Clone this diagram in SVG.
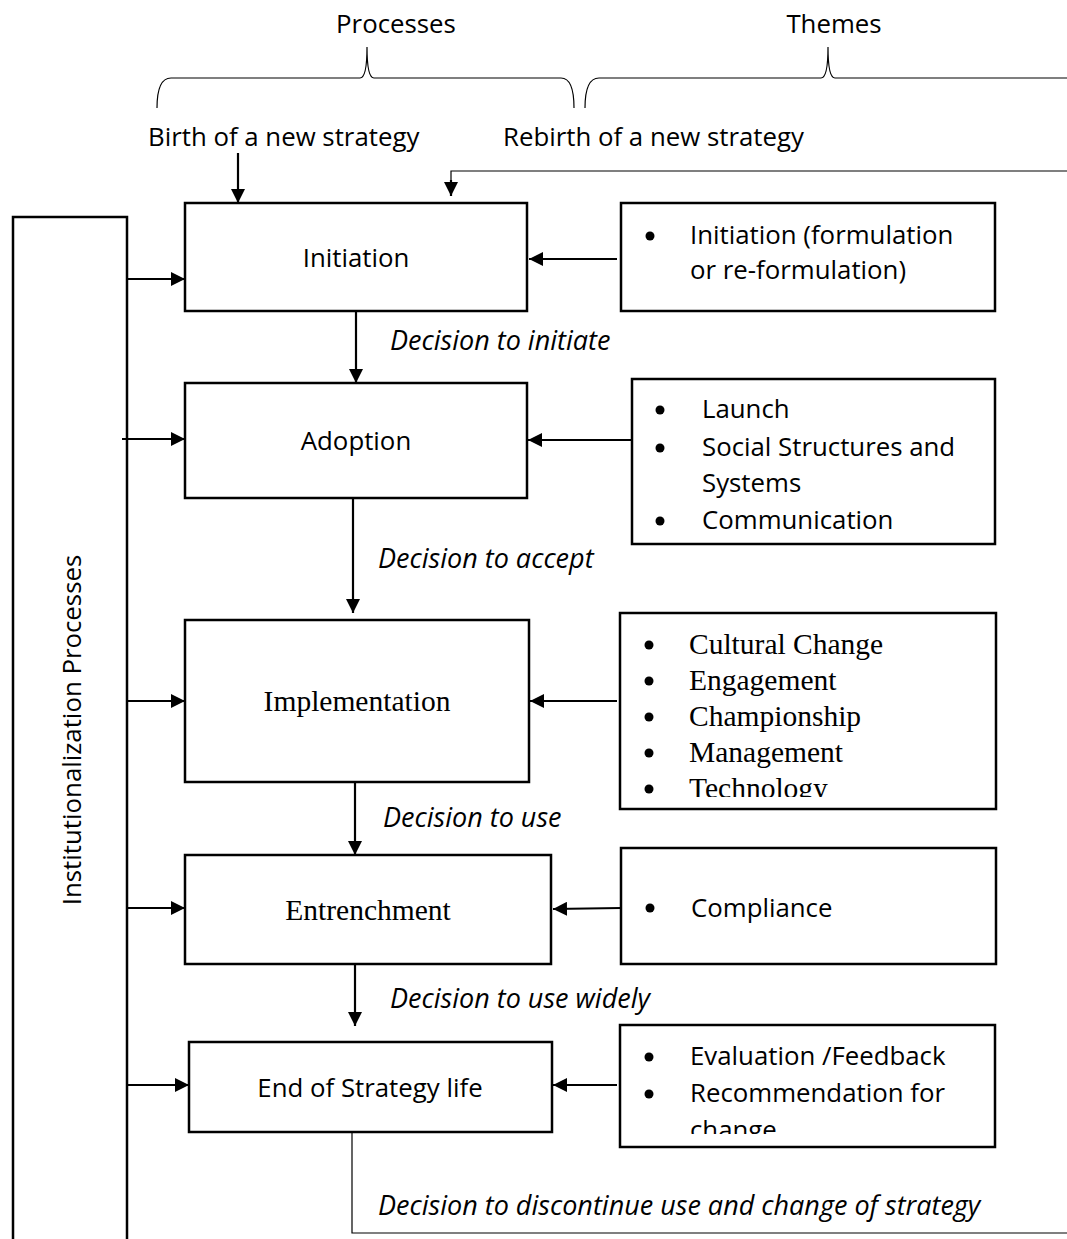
<svg xmlns="http://www.w3.org/2000/svg" width="1067" height="1239" viewBox="0 0 1067 1239">
  <defs>
    <marker id="arrow" viewBox="0 0 14 14" markerWidth="14" markerHeight="14" refX="14" refY="7" orient="auto" markerUnits="userSpaceOnUse">
      <path d="M0,0 L14,7 L0,14 z" fill="#000"/>
    </marker>
    <clipPath id="clipImpl"><rect x="620" y="613" width="376" height="184"/></clipPath>
    <clipPath id="clipEnd"><rect x="620" y="1025" width="375" height="109"/></clipPath>
    <style>
      .box { fill: #fff; stroke: #000; stroke-width: 2.5; }
      .sans { font-family: "Open Sans", "Noto Sans", "Liberation Sans", sans-serif; font-size: 25.8px; fill: #000; }
      .serif { font-family: "Liberation Serif", "Times New Roman", serif; font-size: 29.5px; fill: #000; }
      .ital { font-family: "Open Sans", "Noto Sans", "Liberation Sans", sans-serif; font-size: 27px; font-style: italic; fill: #000; }
      .mid { text-anchor: middle; }
      .link { fill: none; stroke: #000; stroke-width: 2.2; }
      .thin { fill: none; stroke: #000; stroke-width: 1.2; }
      .bullet { fill: #000; }
    </style>
  </defs>

  <!-- Column headings and braces -->
  <g id="headings">
    <text class="sans mid" x="396" y="33">Processes</text>
    <text class="sans mid" x="834" y="33">Themes</text>
    <path class="thin" d="M157,108 Q157,78 171,78 L360,78 Q367,78 367,47 Q367,78 374,78 L561,78 Q574,78 574,108"/>
    <path class="thin" d="M585,108 Q585,78 599,78 L821,78 Q828,78 828,47 Q828,78 835,78 L1067,78"/>
    <text class="sans" x="148" y="146">Birth of a new strategy</text>
    <text class="sans" x="503" y="146">Rebirth of a new strategy</text>
  </g>

  <!-- Institutionalization column -->
  <g id="institutionalization">
    <rect class="box" x="13" y="217" width="114" height="1040"/>
    <text class="sans mid" transform="translate(81,730) rotate(-90)">Institutionalization Processes</text>
  </g>

  <!-- Process nodes -->
  <g id="initiation">
    <rect class="box" x="185" y="203" width="342" height="108"/>
    <text class="sans mid" x="356" y="267">Initiation</text>
  </g>
  <g id="adoption">
    <rect class="box" x="185" y="383" width="342" height="115"/>
    <text class="sans mid" x="356" y="450">Adoption</text>
  </g>
  <g id="implementation">
    <rect class="box" x="185" y="620" width="344" height="162"/>
    <text class="serif mid" x="357" y="711">Implementation</text>
  </g>
  <g id="entrenchment">
    <rect class="box" x="185" y="855" width="366" height="109"/>
    <text class="serif mid" x="368" y="920">Entrenchment</text>
  </g>
  <g id="end-of-life">
    <rect class="box" x="189" y="1042" width="363" height="90"/>
    <text class="sans mid" x="370" y="1097">End of Strategy life</text>
  </g>

  <!-- Theme nodes -->
  <g id="theme-initiation">
    <rect class="box" x="621" y="203" width="374" height="108"/>
    <circle class="bullet" cx="650" cy="236" r="4.5"/>
    <text class="sans" x="690" y="244">Initiation (formulation</text>
    <text class="sans" x="690" y="279">or re-formulation)</text>
  </g>
  <g id="theme-adoption">
    <rect class="box" x="632" y="379" width="363" height="165"/>
    <circle class="bullet" cx="660" cy="410" r="4.5"/>
    <text class="sans" x="702" y="418">Launch</text>
    <circle class="bullet" cx="660" cy="448" r="4.5"/>
    <text class="sans" x="702" y="456">Social Structures and</text>
    <text class="sans" x="702" y="492">Systems</text>
    <circle class="bullet" cx="660" cy="521" r="4.5"/>
    <text class="sans" x="702" y="529">Communication</text>
  </g>
  <g id="theme-implementation">
    <rect class="box" x="620" y="613" width="376" height="196"/>
    <g clip-path="url(#clipImpl)">
      <circle class="bullet" cx="649" cy="645" r="4.5"/>
      <text class="serif" x="689" y="654">Cultural Change</text>
      <circle class="bullet" cx="649" cy="681" r="4.5"/>
      <text class="serif" x="689" y="690">Engagement</text>
      <circle class="bullet" cx="649" cy="717" r="4.5"/>
      <text class="serif" x="689" y="726">Championship</text>
      <circle class="bullet" cx="649" cy="753" r="4.5"/>
      <text class="serif" x="689" y="762">Management</text>
      <circle class="bullet" cx="649" cy="789" r="4.5"/>
      <text class="serif" x="689" y="798">Technology</text>
    </g>
  </g>
  <g id="theme-entrenchment">
    <rect class="box" x="621" y="848" width="375" height="116"/>
    <circle class="bullet" cx="650" cy="908" r="4.5"/>
    <text class="sans" x="691" y="917">Compliance</text>
  </g>
  <g id="theme-end">
    <rect class="box" x="620" y="1025" width="375" height="122"/>
    <g clip-path="url(#clipEnd)">
      <circle class="bullet" cx="649" cy="1057" r="4.5"/>
      <text class="sans" x="690" y="1065">Evaluation /Feedback</text>
      <circle class="bullet" cx="649" cy="1094" r="4.5"/>
      <text class="sans" x="690" y="1102">Recommendation for</text>
      <text class="sans" x="690" y="1139">change</text>
    </g>
  </g>

  <!-- Connectors -->
  <g id="connectors">
    <path class="link" d="M238,153 L238,203" marker-end="url(#arrow)"/>
    <path class="thin" d="M1067,171 L451,171 L451,182"/>
    <path class="link" d="M451,180 L451,196" marker-end="url(#arrow)"/>

    <path class="link" d="M356,311 L356,383" marker-end="url(#arrow)"/>
    <path class="link" d="M353,498 L353,613" marker-end="url(#arrow)"/>
    <path class="link" d="M355,782 L355,855" marker-end="url(#arrow)"/>
    <path class="link" d="M355,964 L355,1026" marker-end="url(#arrow)"/>
    <path class="thin" d="M352,1132 L352,1233 L1067,1233"/>

    <path class="link" d="M127,279 L185,279" marker-end="url(#arrow)"/>
    <path class="link" d="M122,439 L185,439" marker-end="url(#arrow)"/>
    <path class="link" d="M127,701 L185,701" marker-end="url(#arrow)"/>
    <path class="link" d="M127,908 L185,908" marker-end="url(#arrow)"/>
    <path class="link" d="M127,1085 L189,1085" marker-end="url(#arrow)"/>

    <path class="link" d="M617,259 L529,259" marker-end="url(#arrow)"/>
    <path class="link" d="M632,440 L528,440" marker-end="url(#arrow)"/>
    <path class="link" d="M617,701 L530,701" marker-end="url(#arrow)"/>
    <path class="link" d="M621,908 L553,909" marker-end="url(#arrow)"/>
    <path class="link" d="M617,1085 L553,1085" marker-end="url(#arrow)"/>
  </g>

  <!-- Decision labels -->
  <g id="labels">
    <text class="ital" x="390" y="350">Decision to initiate</text>
    <text class="ital" x="378" y="568">Decision to accept</text>
    <text class="ital" x="383" y="827">Decision to use</text>
    <text class="ital" x="390" y="1008">Decision to use widely</text>
    <text class="ital" x="378" y="1215">Decision to discontinue use and change of strategy</text>
  </g>
</svg>
